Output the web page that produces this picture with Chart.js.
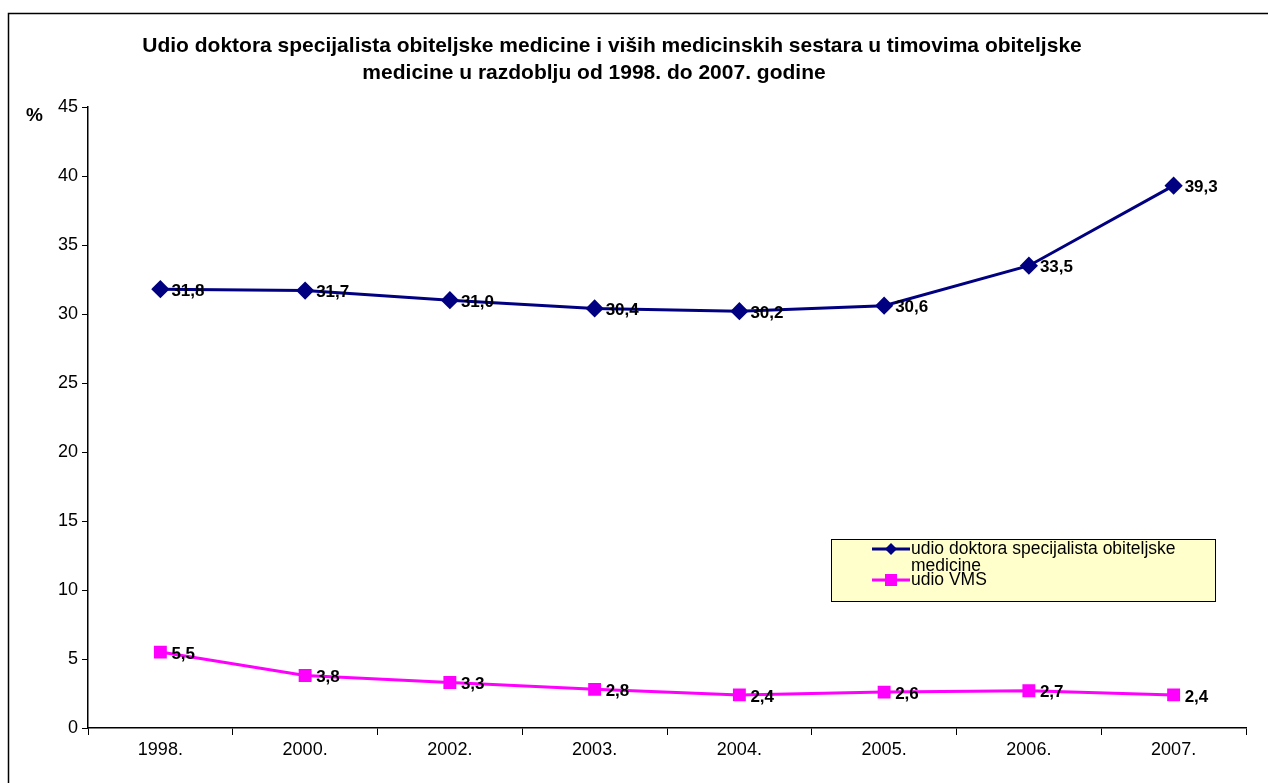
<!DOCTYPE html>
<html>
<head>
<meta charset="utf-8">
<script src="https://cdn.jsdelivr.net/npm/chart.js@4"></script>
<style>
    html, body { margin: 0; padding: 0; background: #fff; }
    #wrap { width: 1268px; height: 783px; }
</style>
</head>
<body>
<div id="wrap"><canvas id="canvas" width="1268" height="783"></canvas></div>
<script>
var years = ['1998.', '2000.', '2002.', '2003.', '2004.', '2005.', '2006.', '2007.'];
var doktori = [31.8, 31.7, 31.0, 30.4, 30.2, 30.6, 33.5, 39.3];
var vms = [5.5, 3.8, 3.3, 2.8, 2.4, 2.6, 2.7, 2.4];
var seriesNames = [['udio doktora specijalista obiteljske', 'medicine'], ['udio VMS']];
var titleLines = [
    'Udio doktora specijalista obiteljske medicine i viših medicinskih sestara u timovima obiteljske',
    'medicine u razdoblju od 1998. do 2007. godine'
];
var yTicks = [0, 5, 10, 15, 20, 25, 30, 35, 40, 45];

var FONT = 'Arial, "Liberation Sans", sans-serif';

// okvir, naslov, oznaka %
var framePlugin = {
    id: 'frame',
    beforeDraw: function(chart) {
        var c = chart.ctx;
        c.save();
        c.fillStyle = '#fff';
        c.fillRect(0, 0, chart.width, chart.height);
        c.strokeStyle = '#000';
        c.lineWidth = 1.5;
        c.strokeRect(8.5, 13.5, 1400, 900);
        c.restore();
    },
    afterDraw: function(chart) {
        var c = chart.ctx;
        c.save();
        c.fillStyle = '#000';
        c.font = 'bold 21px ' + FONT;
        c.textAlign = 'center';
        c.textBaseline = 'middle';
        c.fillText(titleLines[0], 612, 46);
        c.fillText(titleLines[1], 594, 73);
        c.font = 'bold 19px ' + FONT;
        c.textAlign = 'left';
        c.fillText('%', 26, 116);
        c.restore();
    }
};

// vrijednosti uz točke
var labelPlugin = {
    id: 'valueLabels',
    afterDatasetsDraw: function(chart) {
        var c = chart.ctx;
        c.save();
        c.fillStyle = '#000';
        c.font = 'bold 17px ' + FONT;
        c.textAlign = 'left';
        c.textBaseline = 'middle';
        chart.data.datasets.forEach(function(ds, i) {
            chart.getDatasetMeta(i).data.forEach(function(pt, j) {
                c.fillText(ds.data[j].toFixed(1).replace('.', ','), pt.x + 11, pt.y + 2);
            });
        });
        c.restore();
    }
};

// legenda
var legendPlugin = {
    id: 'boxLegend',
    afterDraw: function(chart) {
        var c = chart.ctx;
        var x = 831, y = 539, w = 384, h = 62;
        c.save();
        c.fillStyle = '#FFFFCC';
        c.fillRect(x, y, w, h);
        c.strokeStyle = '#000';
        c.lineWidth = 1;
        c.strokeRect(x + 0.5, y + 0.5, w, h);

        var rows = [549, 580];
        chart.data.datasets.forEach(function(ds, i) {
            var ly = rows[i];
            c.strokeStyle = ds.borderColor;
            c.lineWidth = 3;
            c.beginPath();
            c.moveTo(872, ly);
            c.lineTo(910, ly);
            c.stroke();
            c.fillStyle = ds.borderColor;
            if (ds.pointStyle === 'rectRot') {
                c.beginPath();
                c.moveTo(891, ly - 6);
                c.lineTo(897, ly);
                c.lineTo(891, ly + 6);
                c.lineTo(885, ly);
                c.closePath();
                c.fill();
            } else {
                c.fillRect(885, ly - 6, 12, 12);
            }
            c.fillStyle = '#000';
            c.font = '17.5px ' + FONT;
            c.textAlign = 'left';
            c.textBaseline = 'middle';
            seriesNames[i].forEach(function(t, k) {
                c.fillText(t, 911, ly + k * 17);
            });
        });
        c.restore();
    }
};

function onLoad() {
    var ctx = document.getElementById('canvas').getContext('2d');
    new Chart(ctx, {
        type: 'line',
        data: {
            labels: years,
            datasets: [{
                label: seriesNames[0].join(' '),
                data: doktori,
                borderColor: '#000080',
                backgroundColor: '#000080',
                borderWidth: 3,
                pointStyle: 'rectRot',
                pointRadius: 7,
                pointHoverRadius: 7,
                tension: 0
            }, {
                label: seriesNames[1].join(' '),
                data: vms,
                borderColor: '#FF00FF',
                backgroundColor: '#FF00FF',
                borderWidth: 3,
                pointStyle: 'rect',
                pointRadius: 7,
                pointHoverRadius: 7,
                tension: 0
            }]
        },
        options: {
            responsive: false,
            animation: false,
            layout: { padding: { top: 107, right: 22, left: 0, bottom: 0 } },
            plugins: {
                legend: { display: false },
                title: { display: false },
                tooltip: { enabled: false }
            },
            scales: {
                x: {
                    offset: true,
                    grid: {
                        offset: true,
                        drawOnChartArea: false,
                        drawTicks: true,
                        tickLength: 7,
                        color: '#000'
                    },
                    border: { color: '#000', width: 1.5 },
                    ticks: {
                        color: '#000',
                        font: { family: FONT, size: 18 },
                        padding: 4,
                        maxRotation: 0
                    },
                    afterFit: function(scale) { scale.height = 55; }
                },
                y: {
                    min: 0,
                    max: 45,
                    afterBuildTicks: function(scale) {
                        scale.ticks = yTicks.map(function(v) { return { value: v }; });
                    },
                    grid: {
                        drawOnChartArea: false,
                        drawTicks: true,
                        tickLength: 6,
                        color: '#000'
                    },
                    border: { color: '#000', width: 1.5 },
                    ticks: {
                        color: '#000',
                        font: { family: FONT, size: 18 },
                        padding: 4
                    },
                    afterFit: function(scale) { scale.width = 88; }
                }
            }
        },
        plugins: [framePlugin, labelPlugin, legendPlugin]
    });
}

if (document.readyState !== 'loading') {
    onLoad();
} else {
    document.addEventListener('DOMContentLoaded', onLoad);
}
</script>
</body>
</html>
